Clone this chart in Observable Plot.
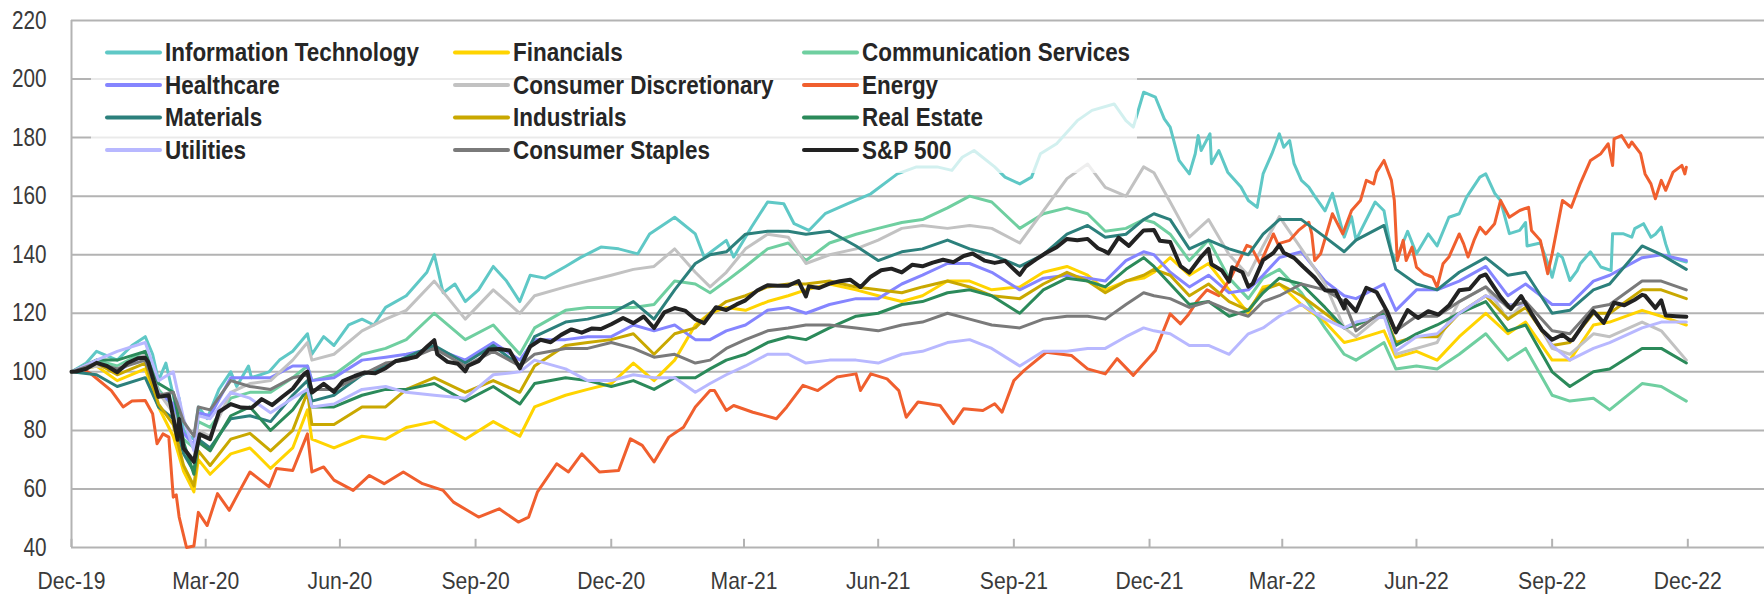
<!DOCTYPE html>
<html><head><meta charset="utf-8">
<script src="https://cdn.jsdelivr.net/npm/d3@7"></script>
<script src="https://cdn.jsdelivr.net/npm/@observablehq/plot@0.6"></script>
<style>
html,body{margin:0;padding:0;background:#fff;}
#chart svg{display:block;}
</style></head><body><div id="chart"></div>
<script>
// shared date grid (most sectors)
const dates = ["2019-12-31","2020-01-17","2020-01-31","2020-02-19","2020-02-28","2020-03-09","2020-03-16","2020-03-23","2020-03-26","2020-04-03","2020-04-17","2020-04-30","2020-05-14","2020-05-29","2020-06-08","2020-06-11","2020-06-26","2020-07-15","2020-07-31","2020-08-14","2020-09-02","2020-09-23","2020-10-12","2020-10-30","2020-11-09","2020-11-30","2020-12-15","2020-12-31","2021-01-15","2021-01-29","2021-02-12","2021-02-26","2021-03-08","2021-03-19","2021-04-01","2021-04-16","2021-04-30","2021-05-12","2021-05-28","2021-06-15","2021-06-30","2021-07-16","2021-07-30","2021-08-16","2021-08-31","2021-09-15","2021-10-04","2021-10-20","2021-11-05","2021-11-19","2021-12-01","2021-12-15","2021-12-27","2022-01-03","2022-01-14","2022-01-27","2022-02-09","2022-02-23","2022-03-08","2022-03-18","2022-03-29","2022-04-13","2022-04-29","2022-05-12","2022-05-20","2022-06-08","2022-06-16","2022-06-30","2022-07-14","2022-07-29","2022-08-16","2022-08-31","2022-09-12","2022-09-30","2022-10-12","2022-10-28","2022-11-08","2022-11-30","2022-12-13","2022-12-30"];

const financials = [100,102,97,101,88,78,66,59,70,65,72,74,67,74,87,77,74,78,77,81,83,77,83,78,88,92,94,96,103,97,104,116,120,122,121,124,126,128,130,128,126,124,126,131,131,128,129,134,136,133,128,131,132,134,139,133,137,128,120,129,130,123,117,110,111,114,105,107,104,112,120,113,117,104,104,116,117,121,119,116];
const commServices = [100,104,102,107,94,88,77,74,83,81,91,93,93,98,102,97,99,106,108,111,120,111,116,106,115,121,122,122,122,123,131,130,127,131,136,142,144,138,144,147,149,151,152,156,160,158,149,154,156,154,148,149,152,151,147,138,145,132,125,132,135,127,115,106,104,110,101,102,101,106,113,104,108,92,90,91,87,96,95,90];
const healthcare = [100,103,100,106,93,89,79,75,86,85,98,98,98,102,102,97,98,104,105,106,108,104,110,104,111,111,112,112,116,114,116,111,111,114,116,121,122,120,123,125,125,130,133,137,137,134,128,132,133,132,131,138,141,140,134,129,133,127,128,133,139,141,131,126,125,130,121,128,128,131,136,126,130,123,123,131,133,139,140,138];
const consDisc = [100,102,101,106,93,86,74,70,80,78,93,96,97,104,110,104,106,114,118,121,131,118,128,120,126,129,131,133,135,136,142,134,129,134,142,147,146,137,140,142,145,149,150,149,150,149,144,155,166,171,163,160,170,168,158,146,152,140,133,143,153,142,130,115,112,120,106,108,110,124,129,118,124,108,106,113,112,117,114,104];
const materials = [100,99,95,98,88,84,72,66,77,74,84,85,83,92,97,90,92,99,102,105,109,103,109,102,112,117,118,120,124,118,128,137,140,141,147,148,148,147,148,143,138,141,142,145,142,140,136,140,147,150,146,147,152,154,152,142,145,142,140,147,152,152,146,141,145,150,135,130,128,134,139,133,134,120,121,128,130,143,140,135];
const industrials = [100,103,99,103,89,82,68,61,73,68,77,79,73,80,93,82,82,88,88,94,98,93,97,93,102,109,110,111,113,106,113,115,120,124,126,129,130,130,131,129,128,127,129,131,129,126,125,130,134,131,127,131,133,135,133,126,130,124,121,128,130,126,120,115,116,120,110,112,112,120,126,118,122,109,110,120,120,128,128,125];
const realEstate = [100,104,104,107,96,93,76,65,76,73,85,88,80,87,94,88,88,92,94,94,96,90,95,89,96,98,97,95,97,94,98,98,101,104,106,110,112,111,115,119,120,123,124,127,128,126,120,128,132,131,129,135,139,136,130,123,124,119,121,127,132,130,122,115,116,120,109,113,116,120,124,114,116,100,95,100,101,108,108,103];
const utilities = [100,104,107,110,97,100,84,73,85,84,93,91,86,91,94,88,89,94,95,93,92,91,99,100,104,101,97,97,99,98,98,93,96,99,102,106,106,103,104,104,103,106,107,110,111,108,102,107,107,108,108,112,115,114,113,109,109,106,113,115,119,123,118,115,117,119,107,112,113,120,126,123,123,109,104,108,110,115,117,117];
const consStaples = [100,103,101,104,92,93,83,78,88,87,97,95,94,98,99,94,94,99,103,104,108,102,107,102,106,108,108,110,108,105,106,103,104,108,111,114,115,116,116,115,114,116,117,120,118,116,115,118,119,119,118,123,127,126,125,122,124,121,119,124,126,130,128,124,114,121,114,119,119,124,129,122,124,114,113,122,123,131,131,128];

// S&P 500, weekly plus turning points
const spDates = ["2019-12-31","2020-01-03","2020-01-10","2020-01-17","2020-01-24","2020-01-31","2020-02-07","2020-02-14","2020-02-19","2020-02-21","2020-02-28","2020-03-06","2020-03-12","2020-03-13","2020-03-16","2020-03-20","2020-03-23","2020-03-27","2020-04-03","2020-04-09","2020-04-17","2020-04-24","2020-05-01","2020-05-08","2020-05-15","2020-05-22","2020-05-29","2020-06-05","2020-06-08","2020-06-11","2020-06-19","2020-06-26","2020-07-02","2020-07-10","2020-07-17","2020-07-24","2020-07-31","2020-08-07","2020-08-14","2020-08-21","2020-08-28","2020-09-02","2020-09-04","2020-09-11","2020-09-18","2020-09-23","2020-09-25","2020-10-02","2020-10-09","2020-10-16","2020-10-23","2020-10-30","2020-11-06","2020-11-13","2020-11-20","2020-11-27","2020-12-04","2020-12-11","2020-12-18","2020-12-24","2020-12-31","2021-01-08","2021-01-15","2021-01-22","2021-01-29","2021-02-05","2021-02-12","2021-02-19","2021-02-26","2021-03-04","2021-03-12","2021-03-19","2021-03-26","2021-04-01","2021-04-09","2021-04-16","2021-04-23","2021-04-30","2021-05-07","2021-05-12","2021-05-14","2021-05-21","2021-05-28","2021-06-04","2021-06-11","2021-06-18","2021-06-25","2021-07-02","2021-07-09","2021-07-16","2021-07-23","2021-07-30","2021-08-06","2021-08-13","2021-08-20","2021-08-27","2021-09-02","2021-09-10","2021-09-17","2021-09-24","2021-10-04","2021-10-08","2021-10-15","2021-10-22","2021-10-29","2021-11-05","2021-11-12","2021-11-19","2021-11-26","2021-11-30","2021-12-03","2021-12-10","2021-12-17","2021-12-23","2021-12-27","2022-01-03","2022-01-07","2022-01-14","2022-01-21","2022-01-27","2022-02-04","2022-02-09","2022-02-11","2022-02-18","2022-02-23","2022-02-25","2022-03-04","2022-03-08","2022-03-11","2022-03-18","2022-03-25","2022-03-29","2022-04-01","2022-04-08","2022-04-14","2022-04-22","2022-04-29","2022-05-06","2022-05-12","2022-05-13","2022-05-20","2022-05-27","2022-06-03","2022-06-10","2022-06-16","2022-06-24","2022-07-01","2022-07-08","2022-07-15","2022-07-22","2022-07-29","2022-08-05","2022-08-12","2022-08-16","2022-08-19","2022-08-26","2022-09-02","2022-09-09","2022-09-16","2022-09-23","2022-09-30","2022-10-07","2022-10-12","2022-10-14","2022-10-21","2022-10-28","2022-11-04","2022-11-11","2022-11-18","2022-11-25","2022-11-30","2022-12-02","2022-12-09","2022-12-13","2022-12-16","2022-12-23","2022-12-30"];
const sp500 = [100,100.13,101.07,103.06,102.0,99.84,103.0,104.62,104.81,103.31,91.44,92.0,76.78,83.91,73.86,71.34,69.25,78.66,77.03,86.35,88.97,87.8,87.62,90.68,88.64,91.48,94.23,98.86,100.05,92.92,95.88,93.14,96.88,98.58,99.81,99.53,101.25,103.73,104.4,105.15,108.58,110.83,106.07,103.41,102.74,100.19,102.09,103.64,107.62,107.83,107.26,101.21,108.63,110.97,110.11,112.62,114.5,113.39,114.81,114.62,116.26,118.38,116.64,118.9,114.96,120.31,121.79,120.92,117.96,116.64,122.06,121.12,123.02,124.42,127.8,129.55,129.39,129.42,131.01,125.76,129.19,128.63,130.13,130.92,131.47,128.96,132.5,134.71,135.25,133.94,136.55,136.04,137.32,138.29,137.48,139.58,140.43,138.0,137.21,137.91,133.11,135.92,138.4,140.67,142.55,145.4,144.94,145.41,142.21,141.36,140.47,145.85,143.02,146.27,148.3,148.47,144.76,144.32,136.13,133.91,139.3,141.98,136.77,134.61,130.79,135.71,133.99,129.09,130.13,138.14,140.62,143.36,140.7,138.92,135.96,132.22,127.89,127.63,121.64,124.55,120.76,128.71,127.17,120.74,113.5,121.08,118.4,120.69,119.57,122.62,127.84,128.3,132.48,133.26,130.88,125.59,121.46,125.89,119.89,114.31,110.98,112.66,110.72,110.9,116.16,120.75,116.71,123.59,122.74,124.62,126.29,126.03,121.78,124.42,119.24,119.01,118.84];

// Information Technology, read at its own (denser) dates
const itDates = ["2019-12-31","2020-01-10","2020-01-17","2020-01-31","2020-02-10","2020-02-19","2020-02-24","2020-02-28","2020-03-04","2020-03-09","2020-03-12","2020-03-13","2020-03-16","2020-03-20","2020-03-23","2020-03-26","2020-04-01","2020-04-09","2020-04-17","2020-04-21","2020-04-29","2020-05-01","2020-05-13","2020-05-20","2020-05-29","2020-06-08","2020-06-11","2020-06-19","2020-06-26","2020-07-06","2020-07-15","2020-07-23","2020-07-31","2020-08-14","2020-08-21","2020-08-28","2020-09-02","2020-09-08","2020-09-16","2020-09-23","2020-10-02","2020-10-12","2020-10-21","2020-10-30","2020-11-06","2020-11-16","2020-11-30","2020-12-10","2020-12-24","2021-01-05","2021-01-18","2021-01-26","2021-02-12","2021-02-26","2021-03-04","2021-03-19","2021-03-24","2021-04-05","2021-04-16","2021-04-27","2021-05-04","2021-05-14","2021-05-25","2021-06-09","2021-06-25","2021-07-13","2021-07-26","2021-08-09","2021-08-19","2021-08-26","2021-09-03","2021-09-17","2021-09-24","2021-10-04","2021-10-12","2021-10-18","2021-10-29","2021-11-12","2021-11-22","2021-12-07","2021-12-15","2021-12-20","2021-12-27","2022-01-04","2022-01-10","2022-01-14","2022-01-20","2022-01-27","2022-01-31","2022-02-02","2022-02-04","2022-02-10","2022-02-11","2022-02-16","2022-02-22","2022-03-03","2022-03-08","2022-03-14","2022-03-18","2022-03-24","2022-03-29","2022-04-01","2022-04-05","2022-04-08","2022-04-13","2022-04-18","2022-04-22","2022-04-29","2022-05-04","2022-05-12","2022-05-17","2022-05-20","2022-06-02","2022-06-08","2022-06-13","2022-06-16","2022-06-24","2022-06-30","2022-07-08","2022-07-14","2022-07-22","2022-07-29","2022-08-03","2022-08-12","2022-08-16","2022-08-22","2022-08-26","2022-09-01","2022-09-08","2022-09-12","2022-09-13","2022-09-22","2022-09-28","2022-09-30","2022-10-04","2022-10-07","2022-10-12","2022-10-17","2022-10-19","2022-10-26","2022-11-02","2022-11-09","2022-11-10","2022-11-17","2022-11-23","2022-11-25","2022-12-01","2022-12-06","2022-12-09","2022-12-13","2022-12-16","2022-12-19","2022-12-23","2022-12-30"];
const infoTech = [100,103,107,104,109,112,106,97,103,92,83,91,80,78,77,88,84,94,100,95,102,98,100,104,107,113,106,112,109,116,118,116,122,126,130,134,140,127,130,124,128,136,131,124,133,132,136,139,142.6,142,140.3,147.1,152.8,147.1,139.2,144.9,139.2,149.4,158,157.4,150.6,148.3,154,157.4,160.8,167.6,170,170,168.8,173.3,175.6,170,166.5,164.2,166.5,174.5,177.9,185.8,189.3,191.5,185.8,183.6,195.5,193.8,186.4,183.6,172.2,167.6,174.5,180.7,175.6,181.3,171.1,175.6,168.2,163.1,158.5,156.2,167.6,174.5,181.3,176.7,179,171.1,165.4,163.1,160,155,161,146,153,145,158,155,141,138,148,140.3,147.1,143,152.8,154,159.7,166.5,167.6,161,158.5,147.2,148.3,151,143,144,135.8,132.3,140.3,139,131.2,134.6,136.9,141,135.8,134.6,147.2,147.2,146,148.9,150.6,146,147,149.4,143.7,139.2,138.5,137.5];

// Energy, read at its own (denser) dates
const energyDates = ["2019-12-31","2020-01-08","2020-01-14","2020-01-27","2020-02-04","2020-02-10","2020-02-19","2020-02-24","2020-02-27","2020-03-02","2020-03-06","2020-03-09","2020-03-11","2020-03-13","2020-03-18","2020-03-23","2020-03-26","2020-04-01","2020-04-08","2020-04-16","2020-04-22","2020-04-30","2020-05-13","2020-05-18","2020-05-29","2020-06-08","2020-06-11","2020-06-19","2020-06-26","2020-07-09","2020-07-20","2020-07-30","2020-08-12","2020-08-25","2020-09-08","2020-09-15","2020-10-02","2020-10-16","2020-10-29","2020-11-05","2020-11-11","2020-11-24","2020-12-02","2020-12-11","2020-12-23","2021-01-05","2021-01-13","2021-01-21","2021-01-29","2021-02-08","2021-02-18","2021-02-26","2021-03-08","2021-03-11","2021-03-19","2021-03-24","2021-04-06","2021-04-22","2021-04-29","2021-05-10","2021-05-20","2021-06-02","2021-06-15","2021-06-18","2021-06-25","2021-07-06","2021-07-14","2021-07-19","2021-07-27","2021-08-11","2021-08-20","2021-08-27","2021-09-09","2021-09-17","2021-09-22","2021-09-30","2021-10-07","2021-10-22","2021-11-08","2021-11-19","2021-12-01","2021-12-09","2021-12-20","2022-01-04","2022-01-14","2022-01-21","2022-01-26","2022-02-01","2022-02-08","2022-02-16","2022-02-24","2022-03-07","2022-03-10","2022-03-16","2022-03-25","2022-03-28","2022-04-05","2022-04-11","2022-04-18","2022-04-20","2022-04-22","2022-04-26","2022-05-04","2022-05-11","2022-05-17","2022-05-23","2022-05-27","2022-06-01","2022-06-03","2022-06-08","2022-06-13","2022-06-15","2022-06-17","2022-06-21","2022-06-23","2022-06-27","2022-06-30","2022-07-05","2022-07-11","2022-07-14","2022-07-18","2022-07-22","2022-07-29","2022-08-01","2022-08-04","2022-08-08","2022-08-12","2022-08-16","2022-08-22","2022-08-26","2022-09-01","2022-09-08","2022-09-14","2022-09-16","2022-09-22","2022-09-27","2022-09-30","2022-10-07","2022-10-13","2022-10-19","2022-10-26","2022-11-02","2022-11-07","2022-11-10","2022-11-11","2022-11-16","2022-11-21","2022-11-23","2022-11-29","2022-12-02","2022-12-06","2022-12-09","2022-12-13","2022-12-16","2022-12-21","2022-12-27","2022-12-29","2022-12-30"];
const energy = [100,101,99,93.6,88,90,90.2,85.7,75.4,78.8,77.7,57.2,58,50.4,40,40.5,52,47.5,58.4,52.7,58.4,65.8,60.7,67,66.3,78.8,65.8,67.5,63,59.5,64.6,61.8,65.8,61.8,59.5,55.5,50.4,53.2,48.7,50.4,59,68.6,65.8,72,65.8,66.3,77.1,74.9,69.2,77.7,81.1,88,93.6,93.6,86.8,88.5,86.2,84,88,95.4,93.6,98.2,99.3,93.6,99.3,97.6,93.6,84.5,89.7,88.5,82.3,87.4,86.8,89.1,86.2,97,100.5,106.7,105.6,101,99.3,104.5,98.8,107.3,119.8,116.4,119.3,124,128,126,132,143.2,142.6,136.9,147.1,143.7,144.9,148.3,151.1,147.1,138,140.3,154,147.1,155.1,158.5,165.4,164.2,168.2,172.2,165.4,158.5,138,144.9,138,142.6,135.8,133.5,132.3,128.9,136.9,139.2,147.1,143.7,139.2,144.9,149.4,147.1,150.6,158.5,152.8,155.1,156.2,148.3,144.9,133.5,140.3,158.5,156.2,164.2,172.2,174.5,177.9,170.5,179.6,180.7,176.7,178.5,174.5,167.6,164.2,159.1,165.4,162,168.2,170.5,167.6,169.9];

const seriesNames = ["Information Technology","Financials","Communication Services","Healthcare","Consumer Discretionary","Energy","Materials","Industrials","Real Estate","Utilities","Consumer Staples","S&P 500"];
const seriesDates = [itDates,dates,dates,dates,dates,energyDates,dates,dates,dates,dates,dates,spDates];
const seriesValues = [infoTech,financials,commServices,healthcare,consDisc,energy,materials,industrials,realEstate,utilities,consStaples,sp500];
const seriesColors = ["#5fc8c6","#ffd400","#6fcfa0","#8585ff","#c2c2c2","#f05f2e","#2c807c","#c9a800","#2b8a5a","#b8b8ff","#7a7a7a","#222222"];

const yTicks = [40,60,80,100,120,140,160,180,200,220];
const xTickDates = ["2019-12-31","2020-03-31","2020-06-30","2020-09-30","2020-12-31","2021-03-31","2021-06-30","2021-09-30","2021-12-31","2022-03-31","2022-06-30","2022-09-30","2022-12-31"];
const xTickLabels = ["Dec-19","Mar-20","Jun-20","Sep-20","Dec-20","Mar-21","Jun-21","Sep-21","Dec-21","Mar-22","Jun-22","Sep-22","Dec-22"];

const FONT = "'Liberation Sans',Arial,sans-serif";
const xTicks = xTickDates.map(d => new Date(d));
const labelMap = new Map(xTicks.map((d, i) => [+d, xTickLabels[i]]));

const lineMarks = seriesNames.map((name, i) => {
  const rows = seriesDates[i].map((d, j) => ({date: new Date(d), value: seriesValues[i][j]}));
  return Plot.line(rows, {x: "date", y: "value", stroke: seriesColors[i],
    strokeWidth: name === "S&P 500" ? 4 : 3, strokeLinejoin: "round", strokeLinecap: "round"});
});

const svg = Plot.plot({
  width: 1764, height: 594,
  marginLeft: 71, marginRight: 0, marginTop: 20, marginBottom: 47,
  style: {fontFamily: FONT, background: "#fff", color: "#3a3a3a"},
  x: {type: "utc", domain: [new Date("2019-12-31"), new Date("2023-02-21")]},
  y: {domain: [40, 220]},
  marks: [
    Plot.ruleY(yTicks, {stroke: "#b3b3b3", strokeWidth: 2}),
    Plot.ruleX([xTicks[0]], {stroke: "#b3b3b3", strokeWidth: 2}),
    Plot.ruleX(xTicks, {y1: 40, y2: 42.8, stroke: "#b3b3b3", strokeWidth: 2}),
    Plot.axisY(yTicks, {tickSize: 0, tickPadding: 25, fontSize: 25, label: null}),
    Plot.axisX(xTicks, {tickSize: 0, tickPadding: 24, fontSize: 24, label: null, tickFormat: d => labelMap.get(+d)}),
    ...lineMarks
  ]
});

// legend inside the plot area, over a translucent white box
const g = d3.select(svg).append("g").attr("font-family", FONT).attr("text-anchor", "start");
g.append("rect").attr("x", 91).attr("y", 27).attr("width", 1046).attr("height", 146)
  .attr("fill", "#fff").attr("fill-opacity", 0.72);
const colX = [107, 455, 804];
seriesNames.forEach((name, i) => {
  const row = Math.floor(i / 3), col = i % 3;
  const y = 52.5 + row * 32.5;
  g.append("line").attr("x1", colX[col]).attr("x2", colX[col] + 53).attr("y1", y).attr("y2", y)
    .attr("stroke", seriesColors[i]).attr("stroke-width", 4).attr("stroke-linecap", "round");
  g.append("text").attr("class", "legend-text").attr("x", colX[col] + 58).attr("y", y).attr("dy", "0.35em")
    .attr("text-anchor", "start")
    .attr("font-size", 25.5).attr("font-weight", "bold").attr("fill", "#262626").text(name);
});

document.getElementById("chart").appendChild(svg);

// narrow the glyphs to mimic a condensed face
function squeeze(selection, k) {
  selection.each(function () {
    const len = this.getComputedTextLength();
    if (len > 0) {
      this.setAttribute("textLength", (len * k).toFixed(1));
      this.setAttribute("lengthAdjust", "spacingAndGlyphs");
    }
  });
}
squeeze(d3.select(svg).selectAll('g[aria-label^="x-axis"] text'), 0.88);
squeeze(d3.select(svg).selectAll('g[aria-label^="y-axis"] text'), 0.83);
squeeze(d3.select(svg).selectAll('text.legend-text'), 0.88);
</script></body></html>
